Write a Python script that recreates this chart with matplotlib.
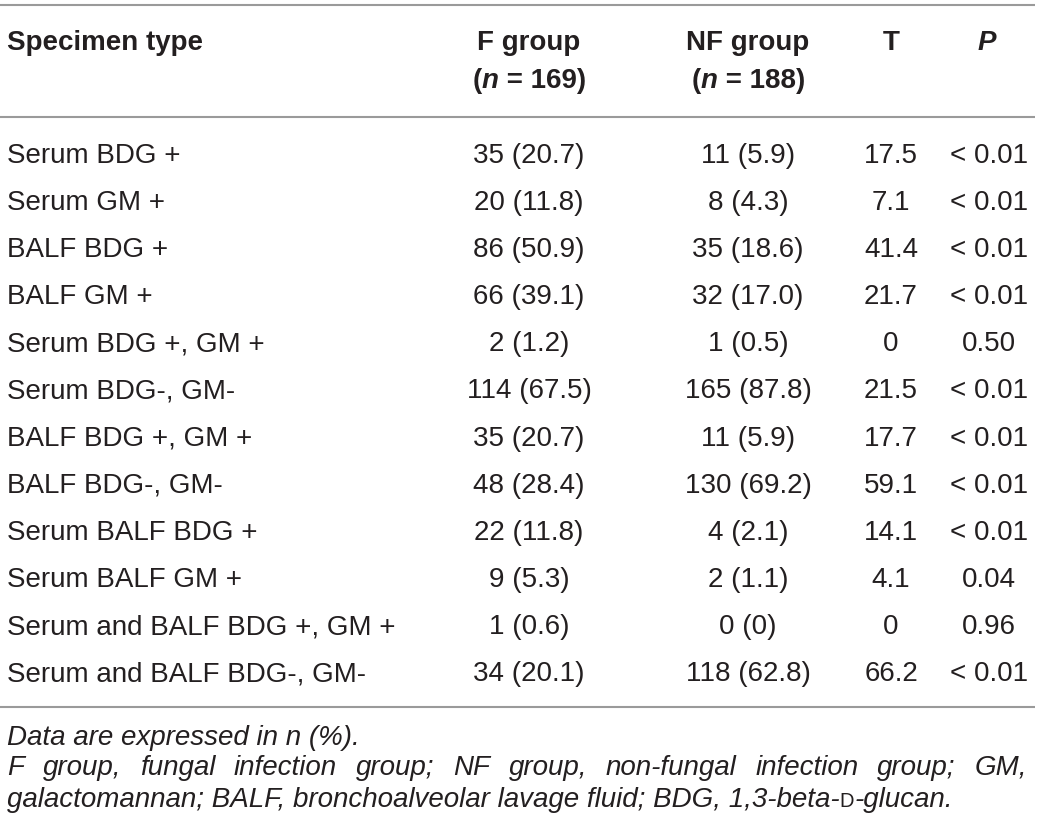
import matplotlib
matplotlib.use("Agg")
import matplotlib.pyplot as plt

plt.rcParams['font.family'] = ['Liberation Sans', 'DejaVu Sans']

# table content
specimen = ["Serum BDG +", "Serum GM +", "BALF BDG +", "BALF GM +",
            "Serum BDG +, GM +", "Serum BDG-, GM-", "BALF BDG +, GM +",
            "BALF BDG-, GM-", "Serum BALF BDG +", "Serum BALF GM +",
            "Serum and BALF BDG +, GM +", "Serum and BALF BDG-, GM-"]
f_group = ["35 (20.7)", "20 (11.8)", "86 (50.9)", "66 (39.1)", "2 (1.2)",
           "114 (67.5)", "35 (20.7)", "48 (28.4)", "22 (11.8)", "9 (5.3)",
           "1 (0.6)", "34 (20.1)"]
nf_group = ["11 (5.9)", "8 (4.3)", "35 (18.6)", "32 (17.0)", "1 (0.5)",
            "165 (87.8)", "11 (5.9)", "130 (69.2)", "4 (2.1)", "2 (1.1)",
            "0 (0)", "118 (62.8)"]
t_vals = ["17.5", "7.1", "41.4", "21.7", "0", "21.5", "17.7", "59.1",
          "14.1", "4.1", "0", "66.2"]
p_vals = ["< 0.01", "< 0.01", "< 0.01", "< 0.01", "0.50", "< 0.01",
          "< 0.01", "< 0.01", "< 0.01", "0.04", "0.96", "< 0.01"]

note1 = "Data are expressed in n (%)."
note2 = ("F group, fungal infection group; NF group, non-fungal infection "
         "group; GM,")
note3 = "galactomannan; BALF, bronchoalveolar lavage fluid; BDG, 1,3-beta-"

W, H = 1040, 831
TXT = '#231f20'
LINE = '#9a9a9a'
FS = 20

fig = plt.figure(figsize=(W / 100, H / 100), dpi=100)
ax = fig.add_axes([0, 0, 1, 1])
ax.set_xlim(0, W)
ax.set_ylim(H, 0)
ax.axis('off')
renderer = fig.canvas.get_renderer()


def width_of(s, **kw):
    t = ax.text(0, 0, s, fontsize=kw.get('fontsize', FS),
                fontweight=kw.get('fontweight', 'normal'),
                fontstyle=kw.get('fontstyle', 'normal'))
    w = t.get_window_extent(renderer).width
    t.remove()
    return w


def draw_runs(x, y, runs, ha='left'):
    """draw a list of (text, style) pieces one after another"""
    widths = [width_of(s, **kw) for s, kw in runs]
    total = sum(widths)
    if ha == 'center':
        x = x - total / 2
    elif ha == 'right':
        x = x - total
    for (s, kw), w in zip(runs, widths):
        ax.text(x, y, s, va='baseline', ha='left', color=TXT,
                fontsize=kw.get('fontsize', FS),
                fontweight=kw.get('fontweight', 'normal'),
                fontstyle=kw.get('fontstyle', 'normal'))
        x += w


# column centres
x_spec, x_f, x_nf, x_t, x_p = 7, 529, 748, 891, 989

# rules
for yl in [5, 117, 707]:
    ax.plot([0, 1035], [yl, yl], color=LINE, lw=1.5, solid_capstyle='butt')

# header
bold = dict(fontweight='bold')
ax.text(x_spec, 50, "Specimen type", ha='left', va='baseline', color=TXT,
        fontsize=FS, fontweight='bold')
ax.text(x_f, 50, "F group", ha='center', va='baseline', color=TXT,
        fontsize=FS, fontweight='bold')
ax.text(x_nf, 50, "NF group", ha='center', va='baseline', color=TXT,
        fontsize=FS, fontweight='bold')
ax.text(x_t, 50, "T", ha='center', va='baseline', color=TXT,
        fontsize=FS, fontweight='bold')
ax.text(987, 50, "P", ha='center', va='baseline', color=TXT,
        fontsize=FS, fontweight='bold', fontstyle='italic')
draw_runs(x_f, 88, [("(", bold), ("n", dict(fontweight='bold', fontstyle='italic')),
                    (" = 169)", bold)], ha='center')
draw_runs(x_nf, 88, [("(", bold), ("n", dict(fontweight='bold', fontstyle='italic')),
                     (" = 188)", bold)], ha='center')

# body
y0, dy = 163, 47.1
for i in range(len(specimen)):
    y = y0 + i * dy
    ax.text(x_spec, y, specimen[i], ha='left', va='baseline', color=TXT, fontsize=FS)
    ax.text(x_f, y, f_group[i], ha='center', va='baseline', color=TXT, fontsize=FS)
    ax.text(x_nf, y, nf_group[i], ha='center', va='baseline', color=TXT, fontsize=FS)
    ax.text(x_t, y, t_vals[i], ha='center', va='baseline', color=TXT, fontsize=FS)
    ax.text(x_p, y, p_vals[i], ha='center', va='baseline', color=TXT, fontsize=FS)

# footnotes
it = dict(fontstyle='italic')
ax.text(x_spec, 745, note1, ha='left', va='baseline', color=TXT,
        fontsize=FS, fontstyle='italic')

# justified second line
words = note2.split(' ')
ww = [width_of(w, **it) for w in words]
gap = (1027 - x_spec - sum(ww)) / (len(words) - 1)
x = x_spec
for w, wd in zip(words, ww):
    ax.text(x, 775, w, ha='left', va='baseline', color=TXT, fontsize=FS,
            fontstyle='italic')
    x += wd + gap

draw_runs(x_spec, 807, [(note3, it), ("D", dict(fontsize=14.5)),
                        ("-glucan.", it)])

fig.savefig("out.png", dpi=100)
